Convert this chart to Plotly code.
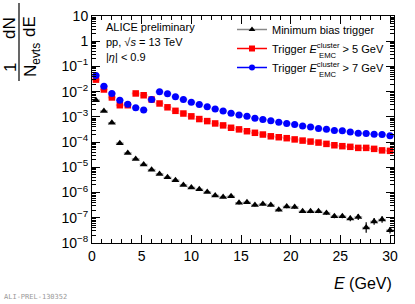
import plotly.graph_objects as go

# ---- data ----
E_centers = [0.4, 1.2, 2.0, 2.8, 3.6, 4.4, 5.2, 6.0, 6.8, 7.6, 8.4, 9.2, 10.0, 10.8,
             11.6, 12.4, 13.2, 14.0, 14.8, 15.6, 16.4, 17.2, 18.0, 18.8, 19.6, 20.4,
             21.2, 22.0, 22.8, 23.6, 24.4, 25.2, 26.0, 26.8, 27.6, 28.4, 29.2, 30.0]
E_halfwidth = [0.4] * len(E_centers)

min_bias = [4.6e-3, 1.7e-3, 5.8e-4, 9.1e-5, 3.7e-5, 2.15e-5, 1.3e-5, 8.1e-6, 5.5e-6,
            4.0e-6, 3.1e-6, 2.0e-6, 1.6e-6, 1.35e-6, 1.05e-6, 7.7e-7, 6.7e-7, 7.1e-7,
            3.9e-7, 4.1e-7, 3.2e-7, 3.5e-7, 3.2e-7, 2.1e-7, 2.8e-7, 2.7e-7, 1.8e-7,
            1.8e-7, 1.8e-7, 1.55e-7, 1.15e-7, 1.15e-7, 9.3e-8, 1.08e-7, 4.1e-8, 7.2e-8,
            8.5e-8, 3.2e-8]
# vertical error half-size in decades
min_bias_err_dex = [0.01, 0.01, 0.01, 0.02, 0.02, 0.02, 0.03, 0.03, 0.03, 0.03, 0.03,
                    0.04, 0.04, 0.04, 0.04, 0.05, 0.05, 0.05, 0.06, 0.06, 0.06, 0.06,
                    0.06, 0.07, 0.07, 0.07, 0.07, 0.07, 0.07, 0.07, 0.08, 0.08, 0.11,
                    0.12, 0.21, 0.13, 0.13, 0.13]

emc5 = [3.0e-2, 1.22e-2, 5.9e-3, 2.9e-3, 2.9e-3, 8.5e-3, 7.2e-3, 4.9e-3, 3.4e-3, 2.4e-3,
        1.74e-3, 1.36e-3, 1.05e-3, 8.2e-4, 6.8e-4, 5.5e-4, 4.6e-4, 3.7e-4, 3.2e-4, 2.7e-4,
        2.34e-4, 2.0e-4, 1.7e-4, 1.56e-4, 1.43e-4, 1.28e-4, 1.15e-4, 1.05e-4, 9.6e-5,
        8.5e-5, 7.5e-5, 6.9e-5, 6.5e-5, 5.9e-5, 5.9e-5, 5.4e-5, 4.7e-5, 4.5e-5]

emc7 = [4.4e-2, 1.65e-2, 8.5e-3, 4.6e-3, 3.2e-3, 2.3e-3, 1.86e-3, 4.9e-3, 9.9e-3, 8.2e-3,
        6.3e-3, 4.9e-3, 3.8e-3, 3.1e-3, 2.5e-3, 2.04e-3, 1.7e-3, 1.41e-3, 1.2e-3, 1.05e-3,
        8.9e-4, 7.9e-4, 7.0e-4, 6.2e-4, 5.5e-4, 5.0e-4, 4.4e-4, 4.0e-4, 3.5e-4, 3.2e-4,
        2.9e-4, 2.8e-4, 2.54e-4, 2.24e-4, 2.2e-4, 2.05e-4, 2.0e-4, 1.78e-4]

y_tickvals = [1e-8, 1e-7, 1e-6, 1e-5, 1e-4, 1e-3, 1e-2, 1e-1, 1, 10]
y_ticktext = ["10<sup>−8</sup>", "10<sup>−7</sup>", "10<sup>−6</sup>", "10<sup>−5</sup>",
              "10<sup>−4</sup>", "10<sup>−3</sup>", "10<sup>−2</sup>", "10<sup>−1</sup>",
              "1", "10"]

# "EMC" subscripts are drawn stacked under "cluster" (as in the reference) by annotations
names = ["Minimum bias trigger",
         "Trigger <i>E</i><sup>cluster</sup> > 5 GeV",
         "Trigger <i>E</i><sup>cluster</sup> > 7 GeV"]
sub_label = "EMC"

FONT = "Liberation Sans, Arial, Helvetica, sans-serif"

mb_up = [v * (10 ** d - 1) for v, d in zip(min_bias, min_bias_err_dex)]
mb_dn = [v * (1 - 10 ** (-d)) for v, d in zip(min_bias, min_bias_err_dex)]

fig = go.Figure()

fig.add_trace(go.Scatter(
    x=E_centers, y=min_bias, mode="markers", showlegend=False,
    marker=dict(symbol="triangle-up", size=7, color="black"),
    error_x=dict(type="data", array=E_halfwidth, color="rgba(110,110,110,0.6)",
                 thickness=1.5, width=0),
    error_y=dict(type="data", array=mb_up, arrayminus=mb_dn, symmetric=False,
                 color="black", thickness=1.2, width=0)))

fig.add_trace(go.Scatter(
    x=E_centers, y=emc5, mode="markers", showlegend=False,
    marker=dict(symbol="square", size=6.5, color="#ff0000"),
    error_x=dict(type="data", array=E_halfwidth, color="rgba(255,90,90,0.5)",
                 thickness=2, width=0)))

fig.add_trace(go.Scatter(
    x=E_centers, y=emc7, mode="markers", showlegend=False,
    marker=dict(symbol="circle", size=7, color="#0000ff"),
    error_x=dict(type="data", array=E_halfwidth, color="rgba(90,90,255,0.5)",
                 thickness=2, width=0)))

# legend entries
leg_style = [("triangle-up", "black", "#888888"), ("square", "#ff0000", "#ff0000"),
             ("circle", "#0000ff", "#0000ff")]
for nm, (sym, mc, lc) in zip(names, leg_style):
    fig.add_trace(go.Scatter(x=[None], y=[None], mode="lines+markers", name=nm,
                             marker=dict(symbol=sym, size=6, color=mc),
                             line=dict(color=lc, width=1.5)))

L, R, T, B = 92, 21, 16, 61
W, H = 415, 304
PW, PH = W - L - R, H - T - B


def px(x):
    return (x - L) / PW


def py(y):
    return (H - B - y) / PH


axis_common = dict(showline=True, linecolor="black", linewidth=1, mirror="allticks",
                   ticks="inside", ticklen=8, tickcolor="black", showgrid=False,
                   zeroline=False, automargin=False,
                   tickfont=dict(family=FONT, size=14, color="black"))

fig.update_xaxes(range=[0, 30.4], tick0=0, dtick=5,
                 minor=dict(ticks="inside", ticklen=4, dtick=1, tickcolor="black"),
                 **axis_common)
fig.update_yaxes(type="log", range=[-8, 1], tickvals=y_tickvals, ticktext=y_ticktext,
                 minor=dict(ticks="inside", ticklen=4, dtick="D1", tickcolor="black"),
                 **axis_common)

ann = []
# text block
for txt, yy in [("ALICE preliminary", 27), ("pp, √<i>s</i> = 13 TeV", 42),
                ("|<i>η</i>| < 0.9", 57)]:
    ann.append(dict(text=txt, x=px(104), y=py(yy), xref="paper", yref="paper",
                    xanchor="left", yanchor="middle", showarrow=False,
                    font=dict(family=FONT, size=11, color="black")))
# stacked subscripts in the legend
for yy in (55, 74):
    ann.append(dict(text=sub_label, x=px(317), y=py(yy), xref="paper", yref="paper",
                    xanchor="left", yanchor="middle", showarrow=False,
                    font=dict(family=FONT, size=7.7, color="black")))
# x-axis title
ann.append(dict(text="<i>E</i> (GeV)", x=1.0, y=py(283), xref="paper", yref="paper",
                xanchor="right", yanchor="middle", showarrow=False,
                font=dict(family=FONT, size=16, color="black")))
# y-axis title as a fraction
for txt, xx, yy in [("1", 10, 68), ("dN", 10, 28), ("N<sub>evts</sub>", 32, 60),
                    ("dE", 29, 27)]:
    ann.append(dict(text=txt, x=px(xx), y=py(yy), xref="paper", yref="paper",
                    xanchor="center", yanchor="middle", showarrow=False, textangle=-90,
                    font=dict(family=FONT, size=17, color="black")))
# watermark
ann.append(dict(text="ALI-PREL-130352", x=px(2), y=py(297), xref="paper", yref="paper",
                xanchor="left", yanchor="middle", showarrow=False,
                font=dict(family="DejaVu Sans Mono, monospace", size=7, color="#999999")))

fig.update_layout(
    width=W, height=H, margin=dict(l=L, r=R, t=T, b=B, autoexpand=False),
    paper_bgcolor="white", plot_bgcolor="white",
    annotations=ann,
    shapes=[dict(type="line", xref="paper", yref="paper", x0=px(19), x1=px(19),
                 y0=py(3), y1=py(81), line=dict(color="black", width=1.2))],
    legend=dict(x=px(232), y=py(15), xanchor="left", yanchor="top",
                bgcolor="rgba(0,0,0,0)", font=dict(family=FONT, size=11, color="black"),
                tracegroupgap=0),
    showlegend=True,
)

fig.write_html("out.html", config={"displayModeBar": False},
               post_script="document.body.style.margin='0';")
